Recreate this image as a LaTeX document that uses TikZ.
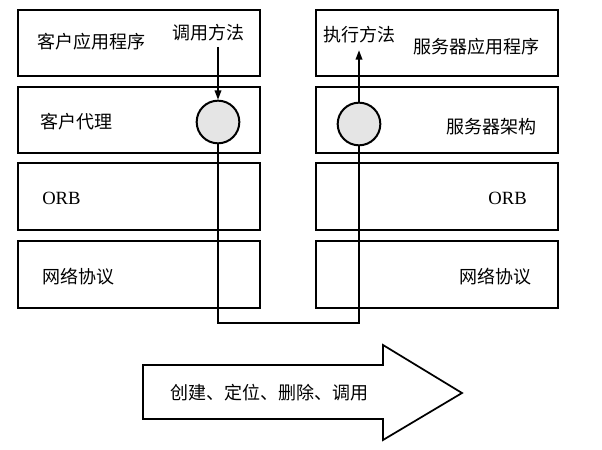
\documentclass[tikz,border=0pt]{standalone}
\usepackage{fontspec}
\setmainfont{Liberation Serif}
\newfontfamily\cjk{Noto Sans CJK SC}
\usetikzlibrary{arrows.meta}
\tikzset{
	layer/.style={draw,line width=1.3pt,minimum width=181.5pt,minimum height=50pt,inner sep=0},
	lbl/.style={inner sep=0,font=\cjk\fontsize{13.5}{16}\selectfont},
	orb/.style={inner sep=0,font=\fontsize{14}{16}\selectfont},
	stub/.style={draw,circle,line width=1.5pt,fill=gray!20,minimum size=32pt,inner sep=0},
	wire/.style={line width=1.1pt}
}
\begin{document}
			\begin{tikzpicture}[x=0.75pt,y=-0.75pt]
				\useasboundingbox (0,0) rectangle (602,449);
				\path
				(139,43) node[layer] (ca) {}
				(139,120) node[layer] (cp) {}
				(139,196.5) node[layer] (corb) {}
				(139,274.5) node[layer] (cnet) {}
				(437,43) node[layer] (sa) {}
				(437,120) node[layer] (sf) {}
				(437,196.5) node[layer] (sorb) {}
				(437,274.5) node[layer] (snet) {};
				\path
				(37,42) node[lbl,anchor=west] (caT) {客户应用程序}
				(40,122) node[lbl,anchor=west] (cpT) {客户代理}
				(42,198) node[orb,anchor=west] (corbT) {ORB}
				(42,277) node[lbl,anchor=west] (cnetT) {网络协议}
				(540,47) node[lbl,anchor=east] (saT) {服务器应用程序}
				(537,127) node[lbl,anchor=east] (sfT) {服务器架构}
				(527,198) node[orb,anchor=east] (sorbT) {ORB}
				(532,277) node[lbl,anchor=east] (snetT) {网络协议};
				\path
				(208.5,33) node[lbl] (call) {调用方法}
				(359.5,35) node[lbl] (exec) {执行方法}
				(218,122) node[stub] (cs) {}
				(359,124) node[stub] (ss) {}
				(218,323) coordinate (bl)
				(359,323) coordinate (br);
				\draw[wire,-{Triangle[length=7pt,width=5pt]}] ([yshift=-4pt]call.south -| cs) -- (cs.north);
				\draw[wire] (cs.south) -- (bl) -- (br) -- (ss.south);
				\draw[wire,-{Triangle[length=7pt,width=5pt]}] (ss.north) -- ([yshift=-5pt]exec.south -| ss);
				\draw[line width=1.3pt] (143,365) -- (383,365) -- (383,345) -- (462,393) -- (383,440) -- (383,419) -- (143,419) -- cycle;
				\node[lbl,anchor=west] (ops) at (170,393) {创建、定位、删除、调用};
			\end{tikzpicture}
\end{document}
